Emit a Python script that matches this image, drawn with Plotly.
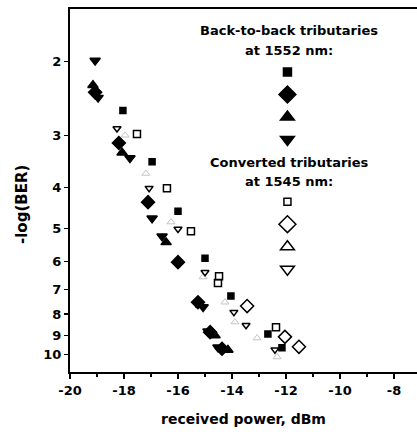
import plotly.graph_objects as go
import math

# ---- data (received power in dBm, -log(BER)) ----
b2b_square_x = [-18.04, -16.96, -16.0, -15.0, -14.04, -12.67, -12.15]
b2b_square_y = [2.62, 3.47, 4.55, 5.89, 7.25, 8.93, 9.63]

b2b_diamond_x = [-19.07, -18.19, -17.11, -16.0, -15.26, -14.81, -14.37]
b2b_diamond_y = [2.37, 3.13, 4.33, 6.02, 7.50, 8.84, 9.68]

b2b_up_x = [-19.15, -18.07, -16.44, -15.15, -14.63, -14.15]
b2b_up_y = [2.28, 3.30, 5.40, 7.62, 9.00, 9.75]

b2b_down_x = [-19.07, -18.96, -17.78, -16.96, -16.59, -15.07, -14.89, -14.52]
b2b_down_y = [1.99, 2.44, 3.40, 4.73, 5.22, 7.70, 8.80, 9.60]

conv_square_x = [-17.52, -16.41, -15.52, -14.48, -14.52, -12.37]
conv_square_y = [2.98, 4.01, 5.08, 6.50, 6.75, 8.60]

conv_diamond_x = [-13.44, -12.04, -11.52]
conv_diamond_y = [7.66, 9.07, 9.58]

conv_up_x = [-17.96, -17.19, -16.26, -15.07, -14.26, -13.89, -13.07, -12.33]
conv_up_y = [3.00, 3.70, 4.83, 6.53, 7.50, 8.36, 9.13, 10.13]

conv_down_x = [-18.26, -17.07, -16.0, -15.0, -13.93, -13.48, -12.41]
conv_down_y = [2.89, 4.01, 5.02, 6.36, 7.92, 8.51, 9.73]

x_tickvals = [-20, -18, -16, -14, -12, -10, -8]
x_ticktext = ["-20", "-18", "-16", "-14", "-12", "-10", "-8"]
y_tickvals = [2, 3, 4, 5, 6, 7, 8, 9, 10]
y_ticktext = ["2", "3", "4", "5", "6", "7", "8", "9", "10"]

heading1 = ["Back-to-back tributaries", "at 1552 nm:"]
heading2 = ["Converted tributaries", "at 1545 nm:"]

FONT = "DejaVu Sans"
BLACK = "#000000"

fig = go.Figure()

def add_series(x, y, symbol, size, color=BLACK, lw=1.5):
    fig.add_trace(go.Scatter(x=x, y=y, mode="markers", showlegend=False,
                             marker=dict(symbol=symbol, size=size, color=color,
                                         line=dict(color=color, width=lw))))

def add_key(symbol, size, legend):
    fig.add_trace(go.Scatter(x=[None], y=[None], mode="markers", name=" ",
                             legend=legend, showlegend=True,
                             marker=dict(symbol=symbol, size=size, color=BLACK,
                                         line=dict(color=BLACK, width=1.5))))

add_series(b2b_square_x, b2b_square_y, "square", 6)
add_series(b2b_diamond_x, b2b_diamond_y, "diamond", 10)
add_series(b2b_up_x, b2b_up_y, "triangle-up", 9)
add_series(b2b_down_x, b2b_down_y, "triangle-down", 9)
add_series(conv_square_x, conv_square_y, "square-open", 7)
add_series(conv_diamond_x, conv_diamond_y, "diamond-open", 10)
add_series(conv_up_x, conv_up_y, "triangle-up-open", 7, color="#c4c4c4", lw=1)
add_series(conv_down_x, conv_down_y, "triangle-down-open", 7)

add_key("square", 8, "legend")
add_key("diamond", 13, "legend")
add_key("triangle-up", 12, "legend")
add_key("triangle-down", 12, "legend")
add_key("square-open", 7, "legend2")
add_key("diamond-open", 13, "legend2")
add_key("triangle-up-open", 12, "legend2")
add_key("triangle-down-open", 12, "legend2")

tickfont = dict(family=FONT, size=13, color=BLACK, weight="bold")
x_range = [-20, -7.148]

legend_common = dict(bgcolor="rgba(0,0,0,0)", borderwidth=0,
                     font=dict(family=FONT, size=15, color=BLACK),
                     xanchor="left", yanchor="top", tracegroupgap=0,
                     itemwidth=30)

fig.update_layout(
    width=417, height=438,
    margin=dict(l=70, r=0, t=9, b=66),
    paper_bgcolor="white", plot_bgcolor="white",
    xaxis=dict(range=x_range, tickvals=x_tickvals, ticktext=x_ticktext,
               ticks="outside", ticklen=5, tickwidth=1.5, tickcolor=BLACK,
               showline=True, mirror=True, linewidth=2, linecolor=BLACK,
               showgrid=False, zeroline=False, tickfont=tickfont,
               minor=dict(dtick=1, ticks="outside", ticklen=3, tickwidth=1.5,
                          tickcolor=BLACK, showgrid=False),
               title=dict(text="received power, dBm", standoff=18,
                          font=dict(family=FONT, size=14, color=BLACK, weight="bold"))),
    yaxis=dict(type="log", range=[math.log10(11.0), math.log10(1.5)],
               tickvals=y_tickvals, ticktext=y_ticktext, ticks="outside",
               ticklen=4, tickwidth=1.5, tickcolor=BLACK, showline=True,
               mirror=False, linewidth=2, linecolor=BLACK, showgrid=False,
               zeroline=False, tickfont=tickfont),
    legend=dict(x=0.569, y=0.871, **legend_common),
    legend2=dict(x=0.569, y=0.514, **legend_common),
    showlegend=True,
)

hfont = dict(family=FONT, size=13, color=BLACK, weight="bold")
for text, yp in [(heading1[0], 31), (heading1[1], 51), (heading2[0], 163), (heading2[1], 181)]:
    fig.add_annotation(text=text, xref="paper", yref="paper",
                       x=(289 - 70) / 347, y=(372 - yp) / 363,
                       xanchor="center", yanchor="middle", showarrow=False, font=hfont)

fig.add_annotation(text="-log(BER)", xref="paper", yref="paper",
                   x=(22 - 70) / 347, y=(372 - 204) / 363, textangle=-90,
                   xanchor="center", yanchor="middle", showarrow=False,
                   font=dict(family=FONT, size=15, color=BLACK, weight="bold"))

fig.write_html("out.html", config={"displayModeBar": False, "staticPlot": True},
               post_script="document.body.style.margin='0';document.body.style.overflow='hidden';")
